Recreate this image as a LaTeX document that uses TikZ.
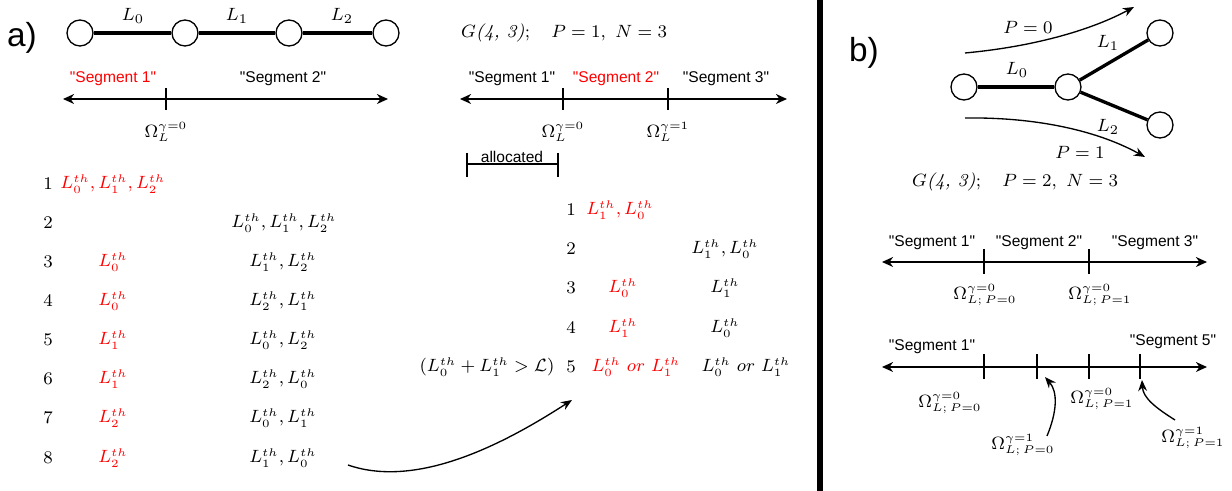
\documentclass[tikz,border=0pt]{standalone}
\usepackage{amsmath, amssymb}
\usepackage{fontspec}
\newfontfamily\labelfont{Liberation Sans}
\usetikzlibrary{arrows.meta, positioning}

\begin{document}
\begin{tikzpicture}[
    x=0.45pt, y=-0.45pt,
    every node/.style={font=\fontsize{8.2}{10}\selectfont, inner sep=1pt},
    small/.style={font=\fontsize{7.6}{9}\selectfont},
    vertex/.style={circle, draw, line width=0.6pt, minimum size=11.7pt, inner sep=0pt},
    edge/.style={line width=1.5pt},
    axis/.style={line width=0.55pt, {Stealth[length=5pt, width=4.5pt]}-{Stealth[length=5pt, width=4.5pt]}},
    tickmark/.style={line width=1.3pt},
    seg/.style={font=\labelfont\fontsize{7}{8}\selectfont, inner sep=1pt},
    panel/.style={font=\labelfont\fontsize{15}{17}\selectfont},
    hot/.style={text=red},
    pointer/.style={line width=0.6pt, -{Stealth[length=5pt, width=4pt]}}
]
    \useasboundingbox (0,0) rectangle (1232,491);

    % panel a: chain graph
    \node[panel] (pa) at (22,38) {a)};
    \node[vertex] (va0) at (80,33) {};
    \node[vertex] (va1) at (185,33) {};
    \node[vertex] (va2) at (289,33) {};
    \node[vertex] (va3) at (386,33) {};
    \draw[edge] (va0) -- (va1);
    \draw[edge] (va1) -- (va2);
    \draw[edge] (va2) -- (va3);
    \node (la0) at (133,16) {$L_0$};
    \node (la1) at (237,16) {$L_1$};
    \node (la2) at (342,16) {$L_2$};

    % panel a: one cut
    \coordinate (axa1l) at (63,99);
    \coordinate (axa1r) at (388,99);
    \draw[axis] (axa1l) -- (axa1r);
    \draw[tickmark] (166,88) -- (166,110);
    \node[seg, hot] (sa11) at (113,79) {"Segment 1"};
    \node[seg] (sa12) at (283,79) {"Segment 2"};
    \node[small] (oa10) at (166,132) {$\Omega_L^{\gamma=0}$};

    % panel a: two cuts
    \node (ga) at (564,33) {$G\textit{(4, 3)};\quad P=1,\ N=3$};
    \coordinate (axa2l) at (460,99);
    \coordinate (axa2r) at (787,99);
    \draw[axis] (axa2l) -- (axa2r);
    \draw[tickmark] (563,88) -- (563,110);
    \draw[tickmark] (668,88) -- (668,110);
    \node[seg] (sa21) at (512,79) {"Segment 1"};
    \node[seg, hot] (sa22) at (616,79) {"Segment 2"};
    \node[seg] (sa23) at (726,79) {"Segment 3"};
    \node[small] (oa20) at (563,132) {$\Omega_L^{\gamma=0}$};
    \node[small] (oa21) at (668,132) {$\Omega_L^{\gamma=1}$};

    \coordinate (all) at (467,164);
    \coordinate (alr) at (558,164);
    \draw[line width=0.6pt] (all) -- (alr);
    \draw[line width=0.6pt] (467,153) -- (467,177);
    \draw[line width=0.6pt] (558,153) -- (558,177);
    \node[seg] (alloc) at (512,157) {allocated};

    % panel a: first table
    \node (ra1) at (48,184) {$1$};
    \node (ra2) at (48,223) {$2$};
    \node (ra3) at (48,262) {$3$};
    \node (ra4) at (48,301) {$4$};
    \node (ra5) at (48,340) {$5$};
    \node (ra6) at (48,379) {$6$};
    \node (ra7) at (48,418) {$7$};
    \node (ra8) at (48,458) {$8$};
    \node[small, hot] (ca1) at (113,184) {$L_0^{th}, L_1^{th}, L_2^{th}$};
    \node[small] (da2) at (284,223) {$L_0^{th}, L_1^{th}, L_2^{th}$};
    \node[small, hot] (ca3) at (113,262) {$L_0^{th}$};
    \node[small] (da3) at (283,262) {$L_1^{th}, L_2^{th}$};
    \node[small, hot] (ca4) at (113,301) {$L_0^{th}$};
    \node[small] (da4) at (283,301) {$L_2^{th}, L_1^{th}$};
    \node[small, hot] (ca5) at (113,340) {$L_1^{th}$};
    \node[small] (da5) at (283,340) {$L_0^{th}, L_2^{th}$};
    \node[small, hot] (ca6) at (113,379) {$L_1^{th}$};
    \node[small] (da6) at (283,379) {$L_2^{th}, L_0^{th}$};
    \node[small, hot] (ca7) at (113,418) {$L_2^{th}$};
    \node[small] (da7) at (283,418) {$L_0^{th}, L_1^{th}$};
    \node[small, hot] (ca8) at (113,458) {$L_2^{th}$};
    \node[small] (da8) at (283,458) {$L_1^{th}, L_0^{th}$};

    % panel a: second table
    \node (rb1) at (571,210) {$1$};
    \node (rb2) at (571,249) {$2$};
    \node (rb3) at (571,288) {$3$};
    \node (rb4) at (571,328) {$4$};
    \node (rb5) at (571,367) {$5$};
    \node[small, hot] (cb1) at (620,210) {$L_1^{th}, L_0^{th}$};
    \node[small] (db2) at (725,249) {$L_1^{th}, L_0^{th}$};
    \node[small, hot] (cb3) at (623,288) {$L_0^{th}$};
    \node[small] (db3) at (725,288) {$L_1^{th}$};
    \node[small, hot] (cb4) at (623,328) {$L_1^{th}$};
    \node[small] (db4) at (725,328) {$L_0^{th}$};
    \node[small, hot] (cb5) at (636,367) {$L_0^{th}\ or\ L_1^{th}$};
    \node[small] (db5) at (746,367) {$L_0^{th}\ or\ L_1^{th}$};
    \node[small] (cond) at (487,367) {$(L_0^{th}+L_1^{th}>\mathcal{L})$};

    \coordinate (jumps) at (348,465);
    \coordinate (jumpe) at (572,400);
    \draw[pointer] (jumps) .. controls (420,490) and (510,440) .. (jumpe);

    % divider
    \draw[line width=2.4pt] (820,0) -- (820,491);

    % panel b: branched graph
    \node[panel] (pb) at (864,53) {b)};
    \node[vertex] (vb0) at (964,87) {};
    \node[vertex] (vb1) at (1068,87) {};
    \node[vertex] (vb2) at (1160,33) {};
    \node[vertex] (vb3) at (1160,125) {};
    \draw[edge] (vb0) -- (vb1);
    \draw[edge] (vb1) -- (vb2);
    \draw[edge] (vb1) -- (vb3);
    \node (lb0) at (1017,70) {$L_0$};
    \node (lb1) at (1108,43) {$L_1$};
    \node (lb2) at (1108,127) {$L_2$};

    \coordinate (p0s) at (965,53);
    \coordinate (p0e) at (1134,7);
    \draw[pointer] (p0s) .. controls (1040,46) and (1095,28) .. (p0e);
    \node (p0) at (1028,27) {$P=0$};
    \coordinate (p1s) at (965,118);
    \coordinate (p1e) at (1145,157);
    \draw[pointer] (p1s) .. controls (1040,117) and (1100,132) .. (p1e);
    \node (p1) at (1080,152) {$P=1$};

    \node (gb) at (1015,182) {$G\textit{(4, 3)};\quad P=2,\ N=3$};

    % panel b: per-path cuts
    \coordinate (axb1l) at (882,262);
    \coordinate (axb1r) at (1207,262);
    \draw[axis] (axb1l) -- (axb1r);
    \draw[tickmark] (984,249) -- (984,274);
    \draw[tickmark] (1089,249) -- (1089,274);
    \node[seg] (sb11) at (932,243) {"Segment 1"};
    \node[seg] (sb12) at (1039,243) {"Segment 2"};
    \node[seg] (sb13) at (1155,243) {"Segment 3"};
    \node[small] (ob10) at (985,295) {$\Omega^{\gamma=0}_{L;\,P=0}$};
    \node[small] (ob11) at (1100,295) {$\Omega^{\gamma=0}_{L;\,P=1}$};

    \coordinate (axb2l) at (882,367);
    \coordinate (axb2r) at (1207,367);
    \draw[axis] (axb2l) -- (axb2r);
    \draw[tickmark] (984,354) -- (984,379);
    \draw[tickmark] (1037,354) -- (1037,379);
    \draw[tickmark] (1089,354) -- (1089,379);
    \draw[tickmark] (1140,354) -- (1140,379);
    \node[seg] (sb21) at (932,347) {"Segment 1"};
    \node[seg] (sb25) at (1173,342) {"Segment 5"};
    \node[small] (ob20) at (950,403) {$\Omega^{\gamma=0}_{L;\,P=0}$};
    \node[small] (ob21) at (1102,399) {$\Omega^{\gamma=0}_{L;\,P=1}$};
    \node[small] (ob22) at (1023,445) {$\Omega^{\gamma=1}_{L;\,P=0}$};
    \node[small] (ob23) at (1193,438) {$\Omega^{\gamma=1}_{L;\,P=1}$};

    \coordinate (q0s) at (1047,436);
    \coordinate (q0e) at (1045,377);
    \draw[pointer] (q0s) .. controls (1057,412) and (1058,392) .. (q0e);
    \coordinate (q1s) at (1175,420);
    \coordinate (q1e) at (1142,380);
    \draw[pointer] (q1s) .. controls (1156,408) and (1143,398) .. (q1e);
\end{tikzpicture}
\end{document}
